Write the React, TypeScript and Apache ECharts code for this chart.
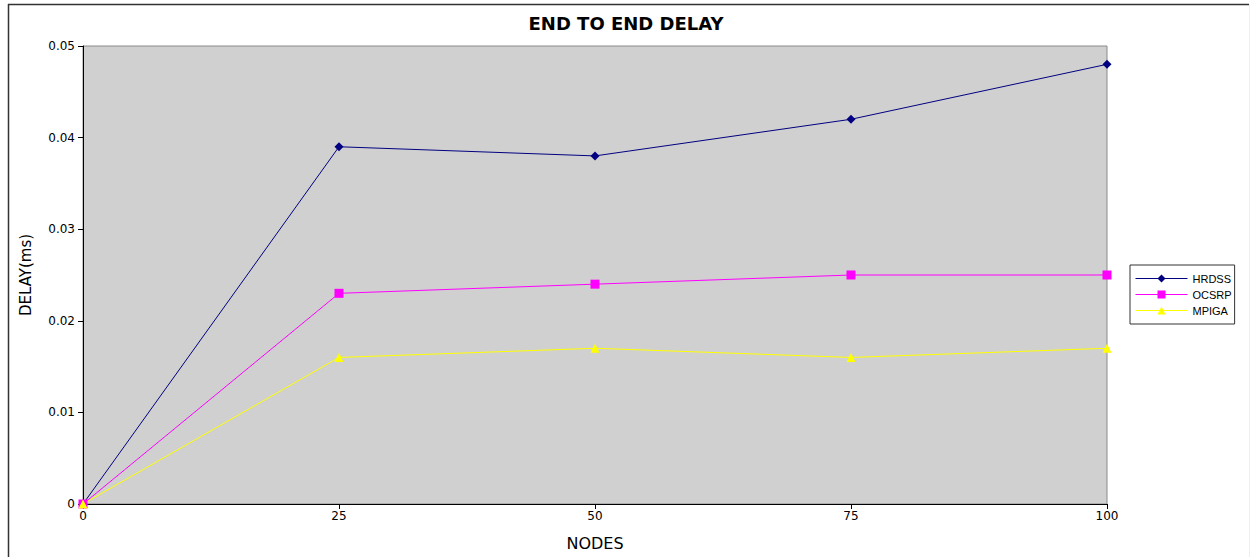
import React, { useEffect, useRef } from "react";
import * as echarts from "echarts";

const nodes = [0, 25, 50, 75, 100];
const hrdss = [0, 0.039, 0.038, 0.042, 0.048];
const ocsrp = [0, 0.023, 0.024, 0.025, 0.025];
const mpiga = [0, 0.016, 0.017, 0.016, 0.017];

const seriesNames = ["HRDSS", "OCSRP", "MPIGA"];

export default function App() {
  const ref = useRef<HTMLDivElement>(null);
  useEffect(() => {
    if (!ref.current) return;
    const chart = echarts.init(ref.current, null, { renderer: "svg" });
    const pts = (ys: number[]) => nodes.map((x, i) => [x, ys[i]]);
    chart.setOption({
      animation: false,
      backgroundColor: "#ffffff",
      textStyle: { fontFamily: "DejaVu Sans" },
      title: {
        text: "END TO END DELAY",
        left: "center",
        top: 9,
        textStyle: { fontFamily: "DejaVu Sans", fontWeight: "bold", fontSize: 18, color: "#000" },
      },
      graphic: [
        { type: "line", shape: { x1: 8, y1: 4.5, x2: 1249, y2: 4.5 }, style: { stroke: "#333", lineWidth: 1.5 } },
        { type: "line", shape: { x1: 8.5, y1: 4, x2: 8.5, y2: 557 }, style: { stroke: "#333", lineWidth: 1.5 } },
        { type: "line", shape: { x1: 1249.5, y1: 4, x2: 1249.5, y2: 557 }, style: { stroke: "#eee", lineWidth: 1 } },
      ],
      grid: {
        left: 83,
        top: 46,
        right: 145,
        bottom: 53,
        show: true,
        backgroundColor: "#d0d0d0",
        borderColor: "#8a8a8a",
        borderWidth: 1,
      },
      legend: {
        data: seriesNames,
        orient: "vertical",
        left: 1130,
        top: 265,
        itemWidth: 52,
        itemHeight: 10,
        itemGap: 5,
        padding: [8, 3, 8, 5],
        borderColor: "#333",
        borderWidth: 1,
        backgroundColor: "#fff",
        lineStyle: { width: 1 },
        textStyle: { fontFamily: "Liberation Sans", fontSize: 11, color: "#000" },
      },
      xAxis: {
        type: "value",
        min: 0,
        max: 100,
        interval: 25,
        name: "NODES",
        nameLocation: "middle",
        nameGap: 31,
        nameTextStyle: { fontSize: 16, color: "#000" },
        axisLine: { show: true, lineStyle: { color: "#000", width: 1 } },
        axisTick: { show: true, length: 5, lineStyle: { color: "#000" } },
        axisLabel: { fontSize: 12, color: "#000", margin: 6 },
        splitLine: { show: false },
      },
      yAxis: {
        type: "value",
        min: 0,
        max: 0.05,
        interval: 0.01,
        name: "DELAY(ms)",
        nameLocation: "middle",
        nameRotate: 90,
        nameGap: 50,
        nameTextStyle: { fontSize: 15, color: "#000" },
        axisLine: { show: true, lineStyle: { color: "#000", width: 1 } },
        axisTick: { show: true, length: 5, lineStyle: { color: "#000" } },
        axisLabel: { fontSize: 12, color: "#000", margin: 8 },
        splitLine: { show: false },
      },
      series: [
        {
          name: "HRDSS",
          type: "line",
          data: pts(hrdss),
          symbol: "diamond",
          symbolSize: 9,
          lineStyle: { color: "#000080", width: 1 },
          itemStyle: { color: "#000080" },
        },
        {
          name: "OCSRP",
          type: "line",
          data: pts(ocsrp),
          symbol: "rect",
          symbolSize: 9,
          lineStyle: { color: "#ff00ff", width: 1 },
          itemStyle: { color: "#ff00ff" },
        },
        {
          name: "MPIGA",
          type: "line",
          data: pts(mpiga),
          symbol: "triangle",
          symbolSize: 9,
          lineStyle: { color: "#ffff00", width: 1 },
          itemStyle: { color: "#ffff00" },
        },
      ],
    });
    return () => chart.dispose();
  }, []);
  return (
    <div
      ref={ref}
      style={{ position: "absolute", left: 0, top: 0, width: 1252, height: 557 }}
    />
  );
}
